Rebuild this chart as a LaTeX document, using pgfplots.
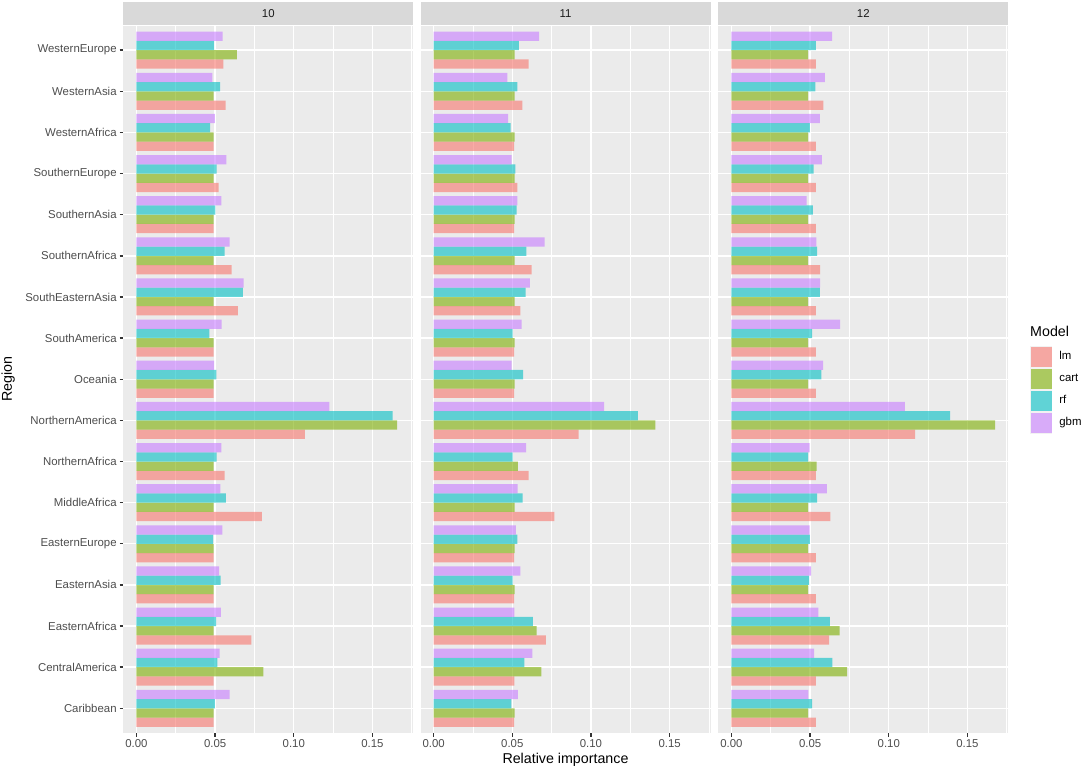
\documentclass[border=0pt]{standalone}
\usepackage{fontspec}
\setmainfont{Liberation Sans}
\usepackage{pgfplots}
\pgfplotsset{compat=1.18}
\usepackage{pgfplotstable}

\definecolor{lmc}{HTML}{F8766D}
\definecolor{cartc}{HTML}{7CAE00}
\definecolor{rfc}{HTML}{00BFC4}
\definecolor{gbmc}{HTML}{C77CFF}
\definecolor{panelbg}{HTML}{EBEBEB}
\definecolor{stripbg}{HTML}{D9D9D9}
\definecolor{keybg}{HTML}{F2F2F2}
\definecolor{ticktext}{HTML}{4D4D4D}
\definecolor{tickmark}{HTML}{333333}
\definecolor{striptext}{HTML}{1A1A1A}

\newcommand\smallfont{\fontsize{8.8}{10.5}\selectfont}
\newcommand\bigfont{\fontsize{11}{13}\selectfont}

% y: 1=Caribbean ... 17=WesternEurope
\pgfplotstableread{
y lm cart rf gbm
1 0.0491 0.0491 0.0499 0.0592
2 0.0491 0.0806 0.0514 0.0529
3 0.0730 0.0491 0.0506 0.0537
4 0.0491 0.0491 0.0535 0.0525
5 0.0491 0.0491 0.0487 0.0546
6 0.0798 0.0491 0.0569 0.0533
7 0.0561 0.0491 0.0510 0.0540
8 0.1071 0.1657 0.1629 0.1227
9 0.0491 0.0491 0.0508 0.0493
10 0.0491 0.0491 0.0463 0.0542
11 0.0645 0.0491 0.0677 0.0681
12 0.0605 0.0491 0.0561 0.0592
13 0.0491 0.0491 0.0501 0.0540
14 0.0523 0.0491 0.0510 0.0571
15 0.0491 0.0491 0.0468 0.0499
16 0.0567 0.0491 0.0531 0.0482
17 0.0552 0.0639 0.0493 0.0548
}\tabA

\pgfplotstableread{
y lm cart rf gbm
1 0.0511 0.0515 0.0494 0.0536
2 0.0513 0.0684 0.0576 0.0627
3 0.0714 0.0655 0.0631 0.0513
4 0.0511 0.0515 0.0502 0.0551
5 0.0511 0.0515 0.0532 0.0523
6 0.0767 0.0515 0.0566 0.0534
7 0.0604 0.0536 0.0502 0.0587
8 0.0922 0.1409 0.1299 0.1083
9 0.0511 0.0515 0.0568 0.0496
10 0.0511 0.0515 0.0502 0.0559
11 0.0551 0.0515 0.0585 0.0612
12 0.0623 0.0515 0.0589 0.0706
13 0.0511 0.0515 0.0528 0.0532
14 0.0532 0.0515 0.0519 0.0496
15 0.0511 0.0515 0.0489 0.0473
16 0.0564 0.0515 0.0532 0.0468
17 0.0604 0.0515 0.0542 0.0670
}\tabB

\pgfplotstableread{
y lm cart rf gbm
1 0.0536 0.0487 0.0513 0.0489
2 0.0536 0.0735 0.0642 0.0526
3 0.0621 0.0687 0.0625 0.0553
4 0.0536 0.0487 0.0494 0.0506
5 0.0536 0.0487 0.0498 0.0496
6 0.0629 0.0487 0.0545 0.0606
7 0.0536 0.0542 0.0487 0.0496
8 0.1168 0.1676 0.1390 0.1102
9 0.0536 0.0487 0.0572 0.0583
10 0.0536 0.0487 0.0513 0.0691
11 0.0536 0.0487 0.0562 0.0564
12 0.0564 0.0487 0.0545 0.0540
13 0.0536 0.0487 0.0517 0.0477
14 0.0536 0.0487 0.0523 0.0574
15 0.0536 0.0487 0.0498 0.0562
16 0.0585 0.0487 0.0534 0.0593
17 0.0536 0.0487 0.0536 0.0640
}\tabC

\pgfplotsset{
  panel/.style={
    anchor=south west,
    scale only axis, width=223.76pt, height=545.9pt,
    xmin=-0.00838, xmax=0.176, ymin=0.4, ymax=17.6,
    axis background/.style={fill=panelbg},
    axis line style={draw=none},
    xtick={0,0.05,0.1,0.15},
    xticklabels={0.00,0.05,0.10,0.15},
    minor xtick={0.025,0.075,0.125,0.175},
    ytick={1,...,17},
    xmajorgrids, ymajorgrids, xminorgrids,
    major grid style={white, line width=1.07pt},
    minor grid style={white, line width=0.53pt},
    tick align=outside,
    major tick length=2.75pt, minor tick length=0pt,
    tick style={tickmark, line width=1.07pt},
    tick pos=left,
    /pgf/number format/assume math mode=true,
    ticklabel style={font=\smallfont, text=ticktext, inner sep=0pt},
    xticklabel style={anchor=north, yshift=-2.2pt},
    yticklabel style={anchor=east, xshift=-2.2pt},
    every axis title/.style={at={(axis description cs:0.5,1)}, anchor=south, fill=stripbg,
      minimum width=223.76pt, minimum height=17.75pt, inner sep=0pt, outer sep=0pt,
      text=striptext, font=\smallfont, yshift=0.15pt},
    xbar, bar width=0.225,
  },
  lm/.style={fill=lmc, fill opacity=0.6, draw=none, bar shift=-0.3375},
  cart/.style={fill=cartc, fill opacity=0.6, draw=none, bar shift=-0.1125},
  rf/.style={fill=rfc, fill opacity=0.6, draw=none, bar shift=0.1125},
  gbm/.style={fill=gbmc, fill opacity=0.6, draw=none, bar shift=0.3375},
}

\begin{document}
\begin{tikzpicture}
\path[use as bounding box] (0,0) rectangle (836.41pt,594.9pt);

\begin{axis}[panel, at={(95.14pt,29.32pt)}, title={10},
  yticklabels={Caribbean,CentralAmerica,EasternAfrica,EasternAsia,EasternEurope,MiddleAfrica,NorthernAfrica,NorthernAmerica,Oceania,SouthAmerica,SouthEasternAsia,SouthernAfrica,SouthernAsia,SouthernEurope,WesternAfrica,WesternAsia,WesternEurope},
  ylabel={Region},
  every axis y label/.style={at={(axis description cs:-0.3966,0.5)}, rotate=90, anchor=center, font=\bigfont},
]
\addplot[lm] table[x=lm,y=y] {\tabA};
\addplot[cart] table[x=cart,y=y] {\tabA};
\addplot[rf] table[x=rf,y=y] {\tabA};
\addplot[gbm] table[x=gbm,y=y] {\tabA};
\end{axis}

\begin{axis}[panel, at={(324.46pt,29.32pt)}, title={11},
  yticklabels={}, ytick style={draw=none},
  xlabel={Relative importance},
  every axis x label/.style={at={(axis description cs:0.5,0)}, anchor=base, yshift=-23.7pt, font=\bigfont},
]
\addplot[lm] table[x=lm,y=y] {\tabB};
\addplot[cart] table[x=cart,y=y] {\tabB};
\addplot[rf] table[x=rf,y=y] {\tabB};
\addplot[gbm] table[x=gbm,y=y] {\tabB};
\end{axis}

\begin{axis}[panel, at={(554.24pt,29.32pt)}, title={12},
  yticklabels={}, ytick style={draw=none},
  legend style={at={(axis description cs:1.0755,0.5475)}, anchor=north west,
    draw=none, fill=none, inner sep=0pt, outer sep=0pt, row sep=0pt,
    column sep=5.5pt, font=\smallfont, cells={anchor=west}, nodes={inner sep=0pt}},
  legend image code/.code={\fill[keybg, fill opacity=1] (0pt,-8.5pt) rectangle (17pt,8.5pt);
    \fill[#1] (0.4pt,-7.7pt) rectangle (16.6pt,7.7pt);},
]
\addplot[lm] table[x=lm,y=y] {\tabC};
\addlegendentry{lm}
\addplot[cart] table[x=cart,y=y] {\tabC};
\addlegendentry{cart}
\addplot[rf] table[x=rf,y=y] {\tabC};
\addlegendentry{rf}
\addplot[gbm] table[x=gbm,y=y] {\tabC};
\addlegendentry{gbm}
\end{axis}

\node[anchor=base west, inner sep=0pt, font=\bigfont] at (794.7pt,335.1pt) {Model};
\end{tikzpicture}
\end{document}
